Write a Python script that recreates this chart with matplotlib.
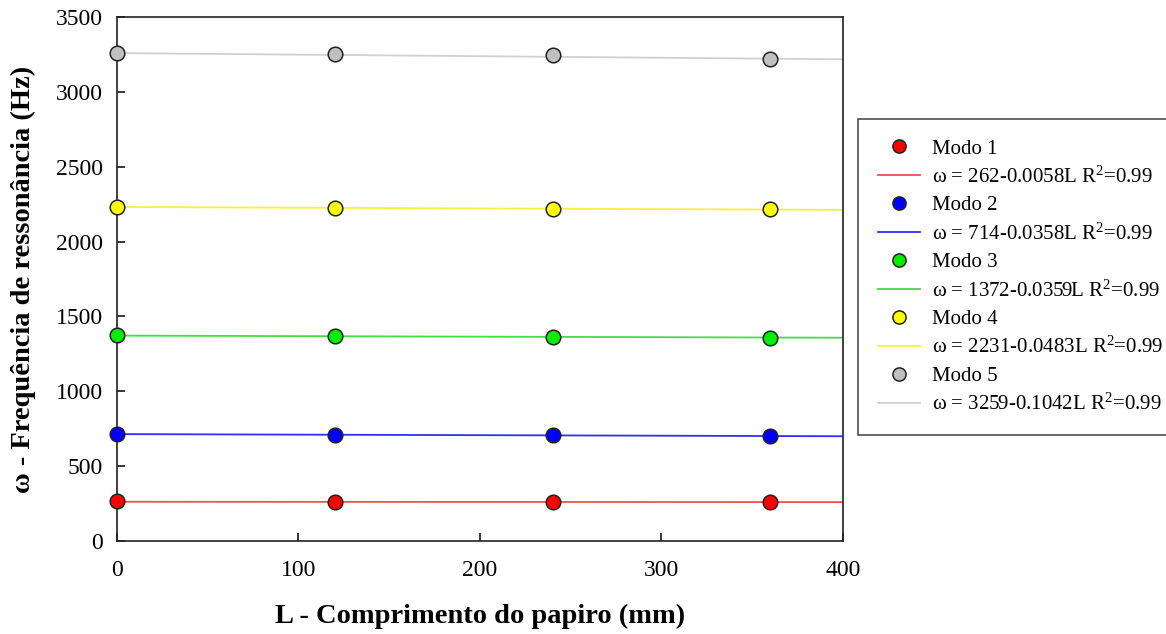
import matplotlib
matplotlib.use("Agg")
import matplotlib.pyplot as plt
from matplotlib.lines import Line2D
import numpy as np

plt.rcParams["font.family"] = ["Liberation Serif", "DejaVu Serif"]
plt.rcParams["mathtext.fontset"] = "custom"
plt.rcParams["mathtext.rm"] = "Liberation Serif"
plt.rcParams["mathtext.it"] = "Liberation Serif:italic"
plt.rcParams["mathtext.bf"] = "Liberation Serif:bold"

# Paper length (mm) and measured resonance frequencies (Hz) per mode
comprimento = [0, 120, 240, 360]
modo1 = [264, 262, 260, 259]
modo2 = [715, 711, 707, 702]
modo3 = [1373, 1367, 1362, 1359]
modo4 = [2233, 2227, 2216, 2215]
modo5 = [3262, 3250, 3245, 3221]

# Linear fit coefficients: omega = a + b*L
intercepts = [262, 714, 1372, 2231, 3259]
slopes = [-0.0058, -0.0358, -0.0359, -0.0483, -0.1042]
r2 = [0.99, 0.99, 0.99, 0.99, 0.99]

series = [modo1, modo2, modo3, modo4, modo5]
nomes = ["Modo 1", "Modo 2", "Modo 3", "Modo 4", "Modo 5"]
marker_colors = ["#ff0000", "#0000ff", "#00ee00", "#ffff00", "#c0c0c0"]
line_colors = ["#f05050", "#3030f0", "#40e040", "#f8f040", "#d0d0d0"]

fig = plt.figure(figsize=(11.66, 6.34), dpi=100)
ax = fig.add_axes([0.1003, 0.1467, 0.6226, 0.8265])

L_fit = np.array([0, 400])
handles = []
labels = []
for vals, nome, a, b, r, mc, lc in zip(series, nomes, intercepts, slopes, r2,
                                       marker_colors, line_colors):
    ax.plot(L_fit, a + b * L_fit, color=lc, lw=1.3, zorder=2)
    ax.plot(comprimento, vals, "o", ms=10.5, mfc=mc, mec="#222222", mew=1.1,
            zorder=3, clip_on=False)
    handles.append(Line2D([], [], ls="none", marker="o", ms=9.5, mfc=mc,
                          mec="#222222", mew=1.1))
    labels.append(nome)
    handles.append(Line2D([], [], color=lc, lw=1.3))
    sinal = "-" if b < 0 else "+"
    labels.append(f"ω = {a}{sinal}{abs(b):.4f}L R$^{{2}}$={r:.2f}")

ax.set_xlim(0, 400)
ax.set_ylim(0, 3500)
ax.set_xticks([0, 100, 200, 300, 400])
ax.set_yticks(np.arange(0, 3501, 500))
ax.tick_params(direction="in", length=6, width=1.1, labelsize=17,
               top=False, right=False, pad=10)
ax.tick_params(axis="x", pad=14)
for s in ax.spines.values():
    s.set_linewidth(1.2)
    s.set_color("#222222")

ax.set_xlabel("L - Comprimento do papiro (mm)", fontsize=20.5,
              fontweight="bold", labelpad=16)
ax.set_ylabel("ω - Frequência de ressonância (Hz)", fontsize=20.5,
              fontweight="bold", labelpad=14)

leg = fig.legend(handles, labels, loc="upper left",
                 bbox_to_anchor=(0.736, 0.812), fontsize=15, frameon=True,
                 fancybox=False, edgecolor="#222222", handlelength=2.0,
                 handletextpad=0.58, labelspacing=0.385, borderpad=0.95,
                 borderaxespad=0)
leg.get_frame().set_linewidth(1.2)

fig.savefig("out.png", dpi=100)
